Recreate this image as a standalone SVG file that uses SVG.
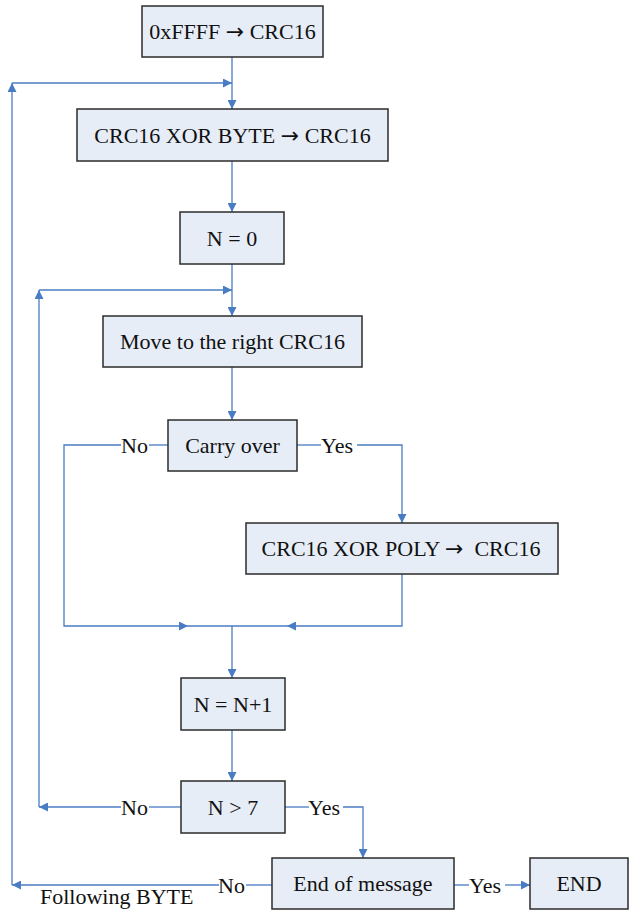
<svg xmlns="http://www.w3.org/2000/svg" width="632" height="911" viewBox="0 0 632 911">
<style>
.box{fill:#E7EDF7;stroke:#2b2b2b;stroke-width:1.5}
.t{font-family:"Liberation Serif","DejaVu Serif",serif;font-size:22px;fill:#111;text-anchor:middle}
.lb{font-family:"Liberation Serif","DejaVu Serif",serif;font-size:22px;fill:#111}
.ar{font-family:"DejaVu Sans",sans-serif;font-weight:normal}
.c{fill:none;stroke:#4A7CC4;stroke-width:1.3}
</style>
<defs>
<marker id="ah" viewBox="0 0 10 10" refX="10" refY="5" markerWidth="10" markerHeight="9" markerUnits="userSpaceOnUse" orient="auto"><path d="M0,0 L10,5 L0,10 z" fill="#4A7CC4"/></marker>
</defs>
<g id="connectors">
<path class="c" d="M232,57 V109" marker-end="url(#ah)"/>
<path class="c" d="M12,83 H232" marker-end="url(#ah)"/>
<path class="c" d="M232,161 V212" marker-end="url(#ah)"/>
<path class="c" d="M232,264 V316" marker-end="url(#ah)"/>
<path class="c" d="M39,290 H232" marker-end="url(#ah)"/>
<path class="c" d="M232,367 V420" marker-end="url(#ah)"/>
<path class="c" d="M168,445 H149"/>
<path class="c" d="M121,445 H64 V626 H188" marker-end="url(#ah)"/>
<path class="c" d="M188,626 H232"/>
<path class="c" d="M297,445 H321"/>
<path class="c" d="M357,445 H402 V523" marker-end="url(#ah)"/>
<path class="c" d="M402,574 V626 H287" marker-end="url(#ah)"/>
<path class="c" d="M287,626 H232"/>
<path class="c" d="M232,626 V678" marker-end="url(#ah)"/>
<path class="c" d="M232,730 V781" marker-end="url(#ah)"/>
<path class="c" d="M181,807 H149"/>
<path class="c" d="M121,807 H39" marker-end="url(#ah)"/>
<path class="c" d="M39,807 V290" marker-end="url(#ah)"/>
<path class="c" d="M285,807 H309"/>
<path class="c" d="M343,807 H363 V858" marker-end="url(#ah)"/>
<path class="c" d="M272,885 H246"/>
<path class="c" d="M219,885 H12" marker-end="url(#ah)"/>
<path class="c" d="M12,885 V83" marker-end="url(#ah)"/>
<path class="c" d="M454,885 H469"/>
<path class="c" d="M505,885 H530" marker-end="url(#ah)"/>
</g>
<g id="n1"><rect class="box" x="142" y="6" width="181" height="51"/><text class="t" x="232.5" y="39">0xFFFF <tspan class="ar">→</tspan> CRC16</text></g>
<g id="n2"><rect class="box" x="77" y="109" width="311" height="52"/><text class="t" x="232.5" y="142.5">CRC16 XOR BYTE <tspan class="ar">→</tspan> CRC16</text></g>
<g id="n3"><rect class="box" x="180" y="212" width="104" height="52"/><text class="t" x="232" y="245.5">N = 0</text></g>
<g id="n4"><rect class="box" x="103" y="316" width="259" height="51"/><text class="t" x="232.5" y="349">Move to the right CRC16</text></g>
<g id="n5"><rect class="box" x="168" y="420" width="129" height="51"/><text class="t" x="232.5" y="453">Carry over</text></g>
<g id="n6"><rect class="box" x="246" y="523" width="312" height="51"/><text class="t" x="401" y="556" xml:space="preserve">CRC16 XOR POLY <tspan class="ar">→</tspan>  CRC16</text></g>
<g id="n7"><rect class="box" x="181" y="678" width="104" height="52"/><text class="t" x="233" y="711.5">N = N+1</text></g>
<g id="n8"><rect class="box" x="181" y="781" width="104" height="52"/><text class="t" x="233" y="814.5">N &gt; 7</text></g>
<g id="n9"><rect class="box" x="272" y="858" width="182" height="51"/><text class="t" x="363" y="891">End of message</text></g>
<g id="n10"><rect class="box" x="530" y="858" width="98" height="51"/><text class="t" x="579" y="891">END</text></g>
<g id="labels">
<text class="lb" x="121" y="452.5">No</text>
<text class="lb" x="321" y="452.5">Yes</text>
<text class="lb" x="121" y="814.5">No</text>
<text class="lb" x="308" y="814.5">Yes</text>
<text class="lb" x="218" y="892.5">No</text>
<text class="lb" x="469" y="892.5">Yes</text>
<text class="lb" x="40" y="904">Following BYTE</text>
</g>
</svg>
